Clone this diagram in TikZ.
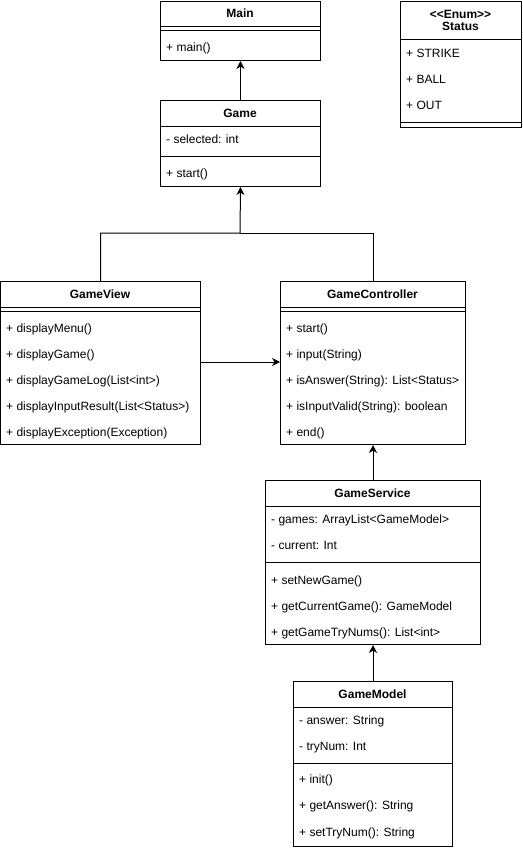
\documentclass[tikz,border=0pt]{standalone}
\usepackage{fontspec}
\setmainfont{Liberation Sans}
\usetikzlibrary{arrows.meta}
\begin{document}
\fontsize{12pt}{14pt}\selectfont
\begin{tikzpicture}[x=1pt, y=-1pt,
  box/.style={draw, line width=1pt, anchor=north west, inner sep=0pt},
  head/.style={font=\bfseries, inner sep=0pt, text height=8.6pt, text depth=0pt},
  item/.style={anchor=west, inner sep=0pt, text height=8.6pt, text depth=0pt},
  sep/.style={line width=1pt},
  link/.style={line width=1pt},
  dep/.style={line width=1pt, -{Stealth[length=8pt,width=8pt,inset=2.5pt]}}]
\useasboundingbox (0,0) rectangle (522,848);
% Main
\node[box, minimum width=160pt, minimum height=59pt] (main) at (160,1) {};
\node[head] (mainH) at (240,13.5) {Main};
\draw[sep] (160,27) -- (320,27);
\draw[sep] (160,31) -- (320,31);
\node[item] (mainM1) at (166,47) {+ main()};
% Status
\node[box, minimum width=121pt, minimum height=126pt] (status) at (400,1) {};
\node[head, align=center, text height=, text depth=] (statusH) at (460.5,20.5) {{<}{<}Enum{>}{>}\\[-2pt]Status};
\draw[sep] (400,40) -- (521,40);
\node[item] (statusA1) at (406,53) {+ STRIKE};
\node[item] (statusA2) at (406,79) {+ BALL};
\node[item] (statusA3) at (406,105) {+ OUT};
\draw[sep] (400,122.5) -- (521,122.5);
% Game
\node[box, minimum width=160pt, minimum height=86pt] (game) at (160,100) {};
\node[head] (gameH) at (240,113) {Game};
\draw[sep] (160,126.5) -- (320,126.5);
\node[item] (gameA1) at (166,139.5) {- selected: int};
\draw[sep] (160,156) -- (320,156);
\node[item] (gameM1) at (166,173) {+ start()};
% GameView
\node[box, minimum width=200pt, minimum height=163pt] (view) at (0,281) {};
\node[head] (viewH) at (100,294) {GameView};
\draw[sep] (0,307) -- (200,307);
\draw[sep] (0,311) -- (200,311);
\node[item] (viewM1) at (6,328) {+ displayMenu()};
\node[item] (viewM2) at (6,354) {+ displayGame()};
\node[item] (viewM3) at (6,380) {+ displayGameLog(List<int>)};
\node[item] (viewM4) at (6,406) {+ displayInputResult(List<Status>)};
\node[item] (viewM5) at (6,432) {+ displayException(Exception)};
% GameController
\node[box, minimum width=185pt, minimum height=163pt] (ctrl) at (280,281) {};
\node[head] (ctrlH) at (372.5,294) {GameController};
\draw[sep] (280,307) -- (465,307);
\draw[sep] (280,311) -- (465,311);
\node[item] (ctrlM1) at (286,328) {+ start()};
\node[item] (ctrlM2) at (286,354) {+ input(String)};
\node[item] (ctrlM3) at (286,380) {+ isAnswer(String): List<Status>};
\node[item] (ctrlM4) at (286,406) {+ isInputValid(String): boolean};
\node[item] (ctrlM5) at (286,432) {+ end()};
% GameService
\node[box, minimum width=215pt, minimum height=164pt] (service) at (265,480) {};
\node[head] (serviceH) at (372.5,493) {GameService};
\draw[sep] (265,506) -- (480,506);
\node[item] (serviceA1) at (271,519) {- games: ArrayList<GameModel>};
\node[item] (serviceA2) at (271,545) {- current: Int};
\draw[sep] (265,562) -- (480,562);
\node[item] (serviceM1) at (271,580) {+ setNewGame()};
\node[item] (serviceM2) at (271,606) {+ getCurrentGame(): GameModel};
\node[item] (serviceM3) at (271,632) {+ getGameTryNums(): List<int>};
% GameModel
\node[box, minimum width=159pt, minimum height=165pt] (model) at (293,681) {};
\node[head] (modelH) at (372.5,694) {GameModel};
\draw[sep] (293,707) -- (452,707);
\node[item] (modelA1) at (299,720) {- answer: String};
\node[item] (modelA2) at (299,746) {- tryNum: Int};
\draw[sep] (293,763) -- (452,763);
\node[item] (modelM1) at (299,779) {+ init()};
\node[item] (modelM2) at (299,805) {+ getAnswer(): String};
\node[item] (modelM3) at (299,832) {+ setTryNum(): String};
% connectors
\coordinate (join) at (240,233);
\coordinate (mid) at (240,362);
\draw[dep] (game) -- (main);
\draw[dep] (view.north) |- (join) -- (game.south);
\draw[link] (ctrl.north) |- (join);
\draw[dep] (view.east |- mid) -- (ctrl.west |- mid);
\draw[dep] (service) -- (ctrl);
\draw[dep] (model) -- (service);
\end{tikzpicture}
\end{document}
